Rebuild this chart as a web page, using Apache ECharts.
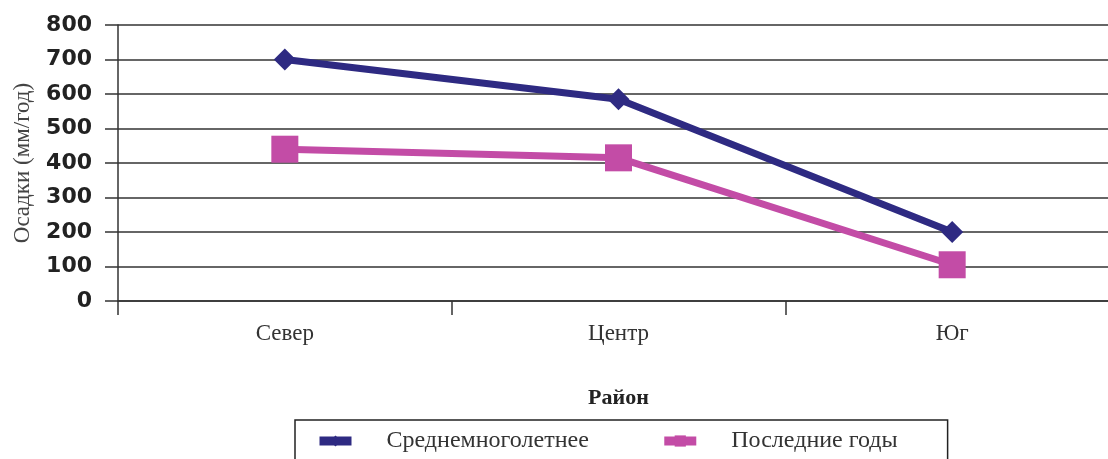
<!DOCTYPE html>
<html>
<head>
<meta charset="utf-8">
<script src="https://cdn.jsdelivr.net/npm/echarts@6/dist/echarts.min.js"></script>
<style>
  html, body { margin: 0; padding: 0; background: #fff; }
  #chart { width: 1108px; height: 459px; }
</style>
</head>
<body>
<div id="chart"></div>
<script>
// Precipitation by district, mm per year
const regions = ['Север', 'Центр', 'Юг'];
const longTermMean = [700, 585, 200];
const recentYears = [440, 415, 105];
const yTicks = [0, 100, 200, 300, 400, 500, 600, 700, 800];

const seriesNames = ['Среднемноголетнее', 'Последние годы'];
const serif = '"Liberation Serif", "DejaVu Serif", serif';
const sans = '"DejaVu Sans", "Liberation Sans", Arial, sans-serif';

const chart = echarts.init(document.getElementById('chart'));
chart.setOption({
  animation: false,
  backgroundColor: '#ffffff',
  // plot area runs past the right edge of the canvas
  grid: { left: 118, top: 25, height: 276, width: 1001, outerBoundsMode: 'none', containLabel: false },
  xAxis: {
    type: 'category',
    data: regions,
    boundaryGap: true,
    name: 'Район',
    nameLocation: 'middle',
    nameGap: 86,
    nameTextStyle: { fontFamily: serif, fontWeight: 'bold', fontSize: 22, color: '#222' },
    axisLine: { show: true, lineStyle: { color: '#333', width: 1.5 } },
    axisTick: { show: true, length: 14, alignWithLabel: false, lineStyle: { color: '#333', width: 1.5 } },
    axisLabel: { margin: 21, fontFamily: serif, fontSize: 23, color: '#333' }
  },
  yAxis: {
    type: 'value',
    min: yTicks[0],
    max: yTicks[yTicks.length - 1],
    interval: yTicks[1] - yTicks[0],
    name: 'Осадки (мм/год)',
    nameLocation: 'middle',
    nameGap: 84,
    nameTextStyle: { fontFamily: serif, fontSize: 23, color: '#444' },
    axisLine: { show: true, lineStyle: { color: '#333', width: 1.5 } },
    axisTick: { show: true, length: 13, lineStyle: { color: '#333', width: 1.5 } },
    axisLabel: { margin: 26, padding: [8, 0, 0, 0], fontFamily: sans, fontWeight: 'bold', fontSize: 22, color: '#222' },
    splitLine: { show: true, lineStyle: { color: '#333', width: 1.5 } }
  },
  legend: {
    left: 295,
    top: 420,
    orient: 'horizontal',
    padding: [9, 50, 14, 20],
    itemGap: 71,
    itemWidth: 32,
    itemHeight: 14,
    borderColor: '#222',
    borderWidth: 1.5,
    lineStyle: { width: 9 },
    textStyle: { fontFamily: serif, fontSize: 24, color: '#333', padding: [0, 0, 0, 30] },
    data: seriesNames
  },
  series: [
    {
      name: seriesNames[0],
      type: 'line',
      data: longTermMean,
      symbol: 'diamond',
      symbolSize: 22,
      lineStyle: { color: '#2e2a82', width: 7 },
      itemStyle: { color: '#2e2a82' },
      z: 3
    },
    {
      name: seriesNames[1],
      type: 'line',
      data: recentYears,
      symbol: 'rect',
      symbolSize: 27,
      lineStyle: { color: '#c34ca6', width: 7 },
      itemStyle: { color: '#c34ca6' },
      z: 2
    }
  ]
});
</script>
</body>
</html>
